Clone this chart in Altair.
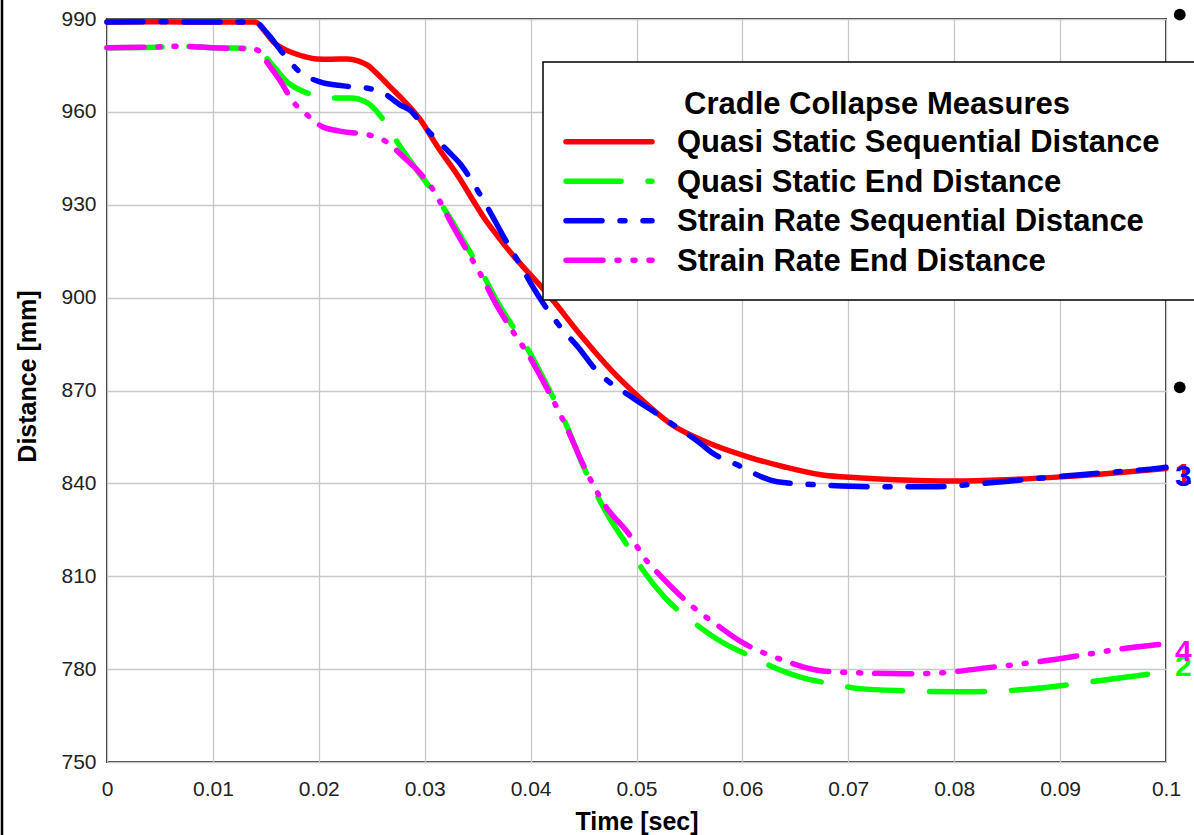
import altair as alt
import pandas as pd

FONT = "Liberation Sans"

# ---------------- data (time [sec], distance [mm]) ----------------
qs_seq_t = [0.0, 0.005, 0.010, 0.0140, 0.0149, 0.0157, 0.0166, 0.0176, 0.0187, 0.0198,
            0.0211, 0.0227, 0.0237, 0.0246, 0.0253, 0.0261, 0.0269, 0.0277, 0.0296, 0.0312,
            0.0333, 0.0345, 0.0356, 0.0369, 0.0384, 0.0403, 0.0418, 0.0447, 0.0475,
            0.0500, 0.0535, 0.0567, 0.0605, 0.0640, 0.0674, 0.0709, 0.0744, 0.0800, 0.0849,
            0.0901, 0.0954, 0.1000]
qs_seq_v = [989.0, 989.1, 989.0, 989.0, 986.0, 982.6, 980.5, 979.0, 977.8, 977.1,
            977.0, 977.1, 976.5, 975.1, 973.0, 970.3, 967.5, 964.8, 957.4, 948.8,
            938.5, 931.8, 925.8, 919.8, 913.4, 906.2, 900.4, 888.0, 877.0,
            868.6, 858.6, 853.2, 848.6, 845.3, 842.8, 841.8, 841.2, 840.8, 841.2,
            842.1, 843.4, 844.8]

qs_end_t = [0.0, 0.004, 0.007, 0.010, 0.0138, 0.0145, 0.0154, 0.0170, 0.0189, 0.0208,
            0.0230, 0.0246, 0.0261, 0.0274, 0.0289, 0.0305, 0.0326, 0.0338, 0.0352, 0.0368,
            0.0383, 0.0397, 0.0416, 0.0433, 0.0450, 0.0470, 0.0494, 0.0506, 0.0526, 0.0557,
            0.0577, 0.0606, 0.0635, 0.0654, 0.0683, 0.0710, 0.0754, 0.0808, 0.0862, 0.0884,
            0.0914, 0.0942, 0.0971, 0.1000]
qs_end_v = [980.7, 980.8, 981.2, 980.7, 980.5, 979.5, 976.1, 969.7, 966.1, 964.5,
            964.5, 962.9, 957.4, 950.3, 942.9, 935.5, 924.5, 917.5, 909.5, 899.0,
            890.8, 883.5, 871.3, 859.5, 845.4, 831.5, 818.5, 812.0, 803.4, 794.3,
            789.5, 784.4, 779.8, 777.5, 775.3, 773.7, 773.0, 772.7, 773.3, 774.0,
            775.2, 776.5, 777.8, 779.1]

sr_seq_t = [0.0, 0.005, 0.010, 0.0140, 0.0151, 0.0166, 0.0182, 0.0201, 0.0223, 0.0245,
            0.0261, 0.0277, 0.0286, 0.0298, 0.0321, 0.0334, 0.0344, 0.0357, 0.0379, 0.0393,
            0.0401, 0.0428, 0.0447, 0.0459, 0.0497, 0.0518, 0.0537, 0.0560, 0.0570, 0.0595,
            0.0633, 0.0674, 0.0727, 0.0779, 0.0824, 0.0866, 0.0919, 0.0995, 0.1000]
sr_seq_v = [989.0, 989.1, 989.0, 989.0, 985.5, 979.0, 972.9, 969.7, 968.4, 967.7,
            966.1, 962.2, 960.6, 955.8, 947.7, 943.0, 938.0, 930.5, 917.0, 909.0,
            904.1, 890.6, 883.1, 877.7, 867.5, 862.8, 858.4, 853.0, 850.2, 846.0,
            840.5, 839.5, 838.9, 838.9, 839.9, 841.2, 842.8, 845.0, 845.2]

sr_end_t = [0.0, 0.004, 0.007, 0.010, 0.0138, 0.0145, 0.0151, 0.0163, 0.0176, 0.0189,
            0.0204, 0.0220, 0.0251, 0.0264, 0.0280, 0.0293, 0.0308, 0.0326, 0.0338, 0.0352,
            0.0368, 0.0383, 0.0397, 0.0416, 0.0433, 0.0450, 0.0470, 0.0492, 0.0510, 0.0520,
            0.0559, 0.0573, 0.0599, 0.0635, 0.0674, 0.0710, 0.0754, 0.0787, 0.0830, 0.0880,
            0.0917, 0.0953, 0.1000]
sr_end_v = [980.7, 980.9, 981.2, 980.7, 980.3, 979.3, 976.1, 970.3, 963.2, 959.0,
            955.1, 953.8, 952.2, 950.3, 945.4, 941.2, 934.8, 923.5, 916.3, 908.0,
            897.5, 889.2, 882.0, 870.3, 858.8, 845.8, 833.0, 824.0, 814.8, 811.1,
            798.5, 795.0, 788.8, 783.3, 779.5, 778.8, 778.5, 778.8, 780.4, 782.4,
            784.3, 786.3, 788.2]

series_names = ["Quasi Static Sequential Distance", "Quasi Static End Distance",
                "Strain Rate Sequential Distance", "Strain Rate End Distance"]
legend_title = "Cradle Collapse Measures"
series_colors = ["#ff0000", "#00ff00", "#0000ff", "#ff00ff"]
series_dashes = [None, [55, 27], [36, 18, 5, 18], [37, 14, 2, 14, 2, 14]]

end_labels = ["1", "2", "3", "4"]
end_label_t = [0.1, 0.1, 0.1, 0.1]
end_label_v = [842.6, 780.8, 842.1, 785.6]

marker_t = [0.1013, 0.1013]
marker_v = [991.4, 871.0]

x_ticks = [0, 0.01, 0.02, 0.03, 0.04, 0.05, 0.06, 0.07, 0.08, 0.09, 0.1]
y_ticks = [750, 780, 810, 840, 870, 900, 930, 960, 990]

# ---------------- chart ----------------
W, H = 1059, 743

X = alt.X("t:Q", scale=alt.Scale(domain=[0, 0.1], nice=False, zero=False),
          axis=alt.Axis(values=x_ticks, format="~g", title="Time [sec]",
                        labelFontSize=21, labelPadding=16, labelFlush=False,
                        labelOverlap=False, titleFontSize=25, titleFontWeight="bold",
                        titleBaseline="alphabetic", titleY=67))
Y = alt.Y("v:Q", scale=alt.Scale(domain=[750, 990], nice=False, zero=False),
          axis=alt.Axis(values=y_ticks, title="Distance [mm]", labelFontSize=21,
                        labelPadding=11, titleFontSize=25, titleFontWeight="bold",
                        titleAngle=270, titleAlign="center", titleBaseline="alphabetic",
                        titleX=-72, titleY=357))

series = [(qs_seq_t, qs_seq_v), (qs_end_t, qs_end_v), (sr_seq_t, sr_seq_v), (sr_end_t, sr_end_v)]
layers = []
for (t, v), col, dash in zip(series, series_colors, series_dashes):
    kw = dict(color=col, strokeWidth=5.5, strokeCap="round", strokeJoin="round",
              interpolate="monotone")
    if dash:
        kw["strokeDash"] = dash
    layers.append(alt.Chart(pd.DataFrame({"t": t, "v": v})).mark_line(**kw).encode(x=X, y=Y))

# end labels
for lab, t, v, col in zip(end_labels, end_label_t, end_label_v, series_colors):
    layers.append(
        alt.Chart(pd.DataFrame({"t": [t], "v": [v], "lab": [lab]}))
        .mark_text(align="left", baseline="middle", dx=9, fontSize=30, fontWeight="bold",
                   font=FONT, color=col)
        .encode(x=X, y=Y, text="lab:N"))

# markers
layers.append(
    alt.Chart(pd.DataFrame({"t": marker_t, "v": marker_v}))
    .mark_point(filled=True, shape="circle", size=140, color="black", opacity=1)
    .encode(x=X, y=Y))

one = pd.DataFrame({"a": [0]})

# legend box
layers.append(
    alt.Chart(one).mark_rect(fill="white", stroke="black", strokeWidth=1.5)
    .encode(x=alt.value(436), x2=alt.value(1110), y=alt.value(43), y2=alt.value(281)))
layers.append(
    alt.Chart(one).mark_text(align="left", baseline="alphabetic", fontSize=31,
                             fontWeight="bold", font=FONT, color="black")
    .encode(x=alt.value(577), y=alt.value(95), text=alt.value(legend_title)))
for i, (name, col, dash) in enumerate(zip(series_names, series_colors, series_dashes)):
    ly = 122.7 + i * 39.5
    kw = dict(color=col, strokeWidth=5.5, strokeCap="round")
    if dash:
        kw["strokeDash"] = dash
    layers.append(alt.Chart(one).mark_rule(**kw)
                  .encode(x=alt.value(459), x2=alt.value(545), y=alt.value(ly)))
    layers.append(
        alt.Chart(one).mark_text(align="left", baseline="alphabetic", fontSize=31,
                                 fontWeight="bold", font=FONT, color="black")
        .encode(x=alt.value(570), y=alt.value(133 + i * 39.6), text=alt.value(name)))

# outer frame line on the left
layers.append(
    alt.Chart(one).mark_rule(color="black", strokeWidth=2.5)
    .encode(x=alt.value(-105), y=alt.value(-19), y2=alt.value(816)))

chart = (
    alt.layer(*layers)
    .properties(width=W, height=H, autosize=alt.AutoSizeParams(type="none"),
                padding={"left": 107, "top": 19, "right": 28, "bottom": 73},
                background="white")
    .configure_view(stroke="#333333", strokeWidth=2)
    .configure_axis(domain=False, ticks=False, grid=True, gridColor="#c8c8c8",
                    gridWidth=1.3, labelFont=FONT, titleFont=FONT,
                    labelColor="#222222", titleColor="black")
)

chart.save("out.html", embed_options={"renderer": "svg", "actions": False})
